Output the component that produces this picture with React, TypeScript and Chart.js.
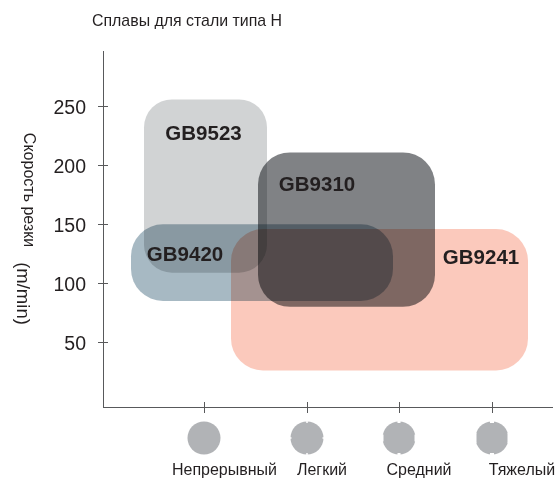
import React, { useEffect, useRef } from "react";
import { Chart, registerables } from "chart.js";

Chart.register(...registerables);

const chartTitle = "Сплавы для стали типа H";
const yAxisTitles = ["Скорость резки", "(m/min)"];
const yTicks = [50, 100, 150, 200, 250];
const xTickPositions = [101, 204, 296, 389];
const cutLabels = ["Непрерывный", "Легкий", "Средний", "Тяжелый"];
const cutLabelPositions = [121.5, 219, 316, 419];
const notchTop = [0, 1.5, 3, 4];
const notchSide = [0, 1.5, 7, 10];
const alloyNames = ["GB9523", "GB9310", "GB9420", "GB9241"];
const alloyX: [number, number][] = [[41, 164], [155, 332], [28, 290], [128, 425]];
const alloyY: [number, number][] = [[109, 256], [80, 211], [85, 150], [26, 146]];
const alloyColors = ["#d1d3d4", "#808285", "#a7b9c3", "#fbc9bc"];
const alloyRadii = [28, 32, 32, 32];
const alloyLabelAt: [number, number][] = [[100.5, 226.5], [214, 183], [82, 123.5], [378, 121]];

const RADIUS = 16.5;
const CIRCLE_Y = 438;

const drawing = {
  id: "drawing",
  afterLayout(chart: any) {
    chart.titleBlock.left = 92;
    chart.titleBlock.right = 557;
  },
  beforeDraw(chart: any) {
    const c = chart.ctx;
    c.save();
    c.fillStyle = "#ffffff";
    c.fillRect(0, 0, chart.width, chart.height);
    c.restore();
  },
  beforeDatasetsDraw(chart: any) {
    const c = chart.ctx;
    const { x, y } = chart.scales;
    c.save();
    c.globalCompositeOperation = "multiply";
    chart.data.datasets.forEach((ds: any, i: number) => {
      const [a, b] = ds.data;
      const x0 = x.getPixelForValue(a.x);
      const x1 = x.getPixelForValue(b.x);
      const y0 = y.getPixelForValue(b.y);
      const y1 = y.getPixelForValue(a.y);
      c.fillStyle = alloyColors[i];
      c.beginPath();
      c.roundRect(x0, y0, x1 - x0, y1 - y0, alloyRadii[i]);
      c.fill();
    });
    c.restore();
  },
  afterDraw(chart: any) {
    const c = chart.ctx;
    const { x, y } = chart.scales;
    c.save();
    c.strokeStyle = "#58595b";
    c.lineWidth = 1;
    c.beginPath();
    yTicks.forEach((v) => {
      const p = Math.round(y.getPixelForValue(v)) + 0.5;
      c.moveTo(x.left, p);
      c.lineTo(x.left + 5, p);
    });
    xTickPositions.forEach((v) => {
      const p = Math.round(x.getPixelForValue(v)) + 0.5;
      c.moveTo(p, y.bottom);
      c.lineTo(p, y.bottom - 5);
    });
    c.stroke();

    c.fillStyle = "#231f20";
    c.font = "bold 20.5px 'Liberation Sans'";
    c.textAlign = "center";
    c.textBaseline = "middle";
    alloyNames.forEach((name, i) => {
      c.fillText(name, x.getPixelForValue(alloyLabelAt[i][0]), y.getPixelForValue(alloyLabelAt[i][1]));
    });

    xTickPositions.forEach((v, i) => {
      const cx = x.getPixelForValue(v);
      c.fillStyle = "#b1b3b6";
      c.beginPath();
      c.arc(cx, CIRCLE_Y, RADIUS, 0, Math.PI * 2);
      c.fill();
      const t = notchTop[i];
      const n = notchSide[i];
      if (n > 0) {
        c.fillStyle = "#ffffff";
        c.fillRect(cx - t / 2, CIRCLE_Y - RADIUS - 1, t, 2.5);
        c.fillRect(cx - t / 2, CIRCLE_Y + RADIUS - 1.5, t, 2.5);
        c.fillRect(cx - RADIUS - 1, CIRCLE_Y - n / 2, 2, n);
        c.fillRect(cx + RADIUS - 1, CIRCLE_Y - n / 2, 2, n);
      }
    });

    c.fillStyle = "#231f20";
    c.save();
    c.translate(28, 190);
    c.rotate(Math.PI / 2);
    c.font = "16px 'Liberation Sans'";
    c.fillText(yAxisTitles[0], 0, 0);
    c.restore();
    c.translate(22, 293.5);
    c.rotate(Math.PI / 2);
    c.font = "18.5px 'Liberation Sans'";
    c.fillText(yAxisTitles[1], 0, 0);
    c.restore();
  },
};

export default function App() {
  const ref = useRef<HTMLCanvasElement>(null);
  useEffect(() => {
    document.body.style.margin = "0";
    const chart = new Chart(ref.current as HTMLCanvasElement, {
      type: "scatter",
      data: {
        datasets: alloyNames.map((name, i) => ({
          label: name,
          data: [
            { x: alloyX[i][0], y: alloyY[i][0] },
            { x: alloyX[i][1], y: alloyY[i][1] },
          ],
          pointRadius: 0,
          pointHoverRadius: 0,
          showLine: false,
        })),
      },
      plugins: [drawing],
      options: {
        responsive: false,
        animation: false,
        layout: { padding: { top: 0, right: 5, bottom: 0, left: 0 } },
        plugins: {
          legend: { display: false },
          tooltip: { enabled: false },
          title: {
            display: true,
            text: chartTitle,
            align: "start",
            color: "#231f20",
            font: { family: "'Liberation Sans'", size: 15.9, weight: "normal" },
            padding: { top: 12, bottom: 20 },
          },
        },
        scales: {
          x: {
            type: "linear",
            min: 0,
            max: 449,
            afterBuildTicks: (s: any) => {
              s.ticks = xTickPositions.map((value) => ({ value }));
            },
            afterFit: (s: any) => {
              s.height = 6;
              s.paddingLeft = 0;
              s.paddingRight = 0;
            },
            border: { color: "#58595b", width: 1 },
            grid: { drawOnChartArea: false, color: "#58595b", tickLength: 6 },
            ticks: { display: false },
          },
          x2: {
            type: "linear",
            position: "bottom",
            min: 0,
            max: 449,
            afterBuildTicks: (s: any) => {
              s.ticks = cutLabelPositions.map((value) => ({ value }));
            },
            afterFit: (s: any) => {
              s.height = 66;
              s.paddingLeft = 0;
              s.paddingRight = 0;
            },
            border: { display: false },
            grid: { display: false },
            ticks: {
              maxRotation: 0,
              autoSkip: false,
              padding: 40,
              color: "#231f20",
              font: { family: "'Liberation Sans'", size: 16 },
              callback: (v: any) => cutLabels[cutLabelPositions.indexOf(Number(v))] ?? "",
            },
          },
          y: {
            min: -5,
            max: 297,
            afterBuildTicks: (s: any) => {
              s.ticks = yTicks.map((value) => ({ value }));
            },
            afterFit: (s: any) => {
              s.width = 103;
              s.paddingTop = 0;
              s.paddingBottom = 0;
            },
            border: { color: "#58595b", width: 1 },
            grid: { drawOnChartArea: false, color: "#58595b", tickLength: 5 },
            ticks: {
              padding: 12,
              labelOffset: 2,
              color: "#231f20",
              font: { family: "'Liberation Sans'", size: 19.5 },
            },
          },
        },
      },
    } as any);
    return () => chart.destroy();
  }, []);
  return <canvas ref={ref} width={557} height={479} style={{ display: "block" }} />;
}
